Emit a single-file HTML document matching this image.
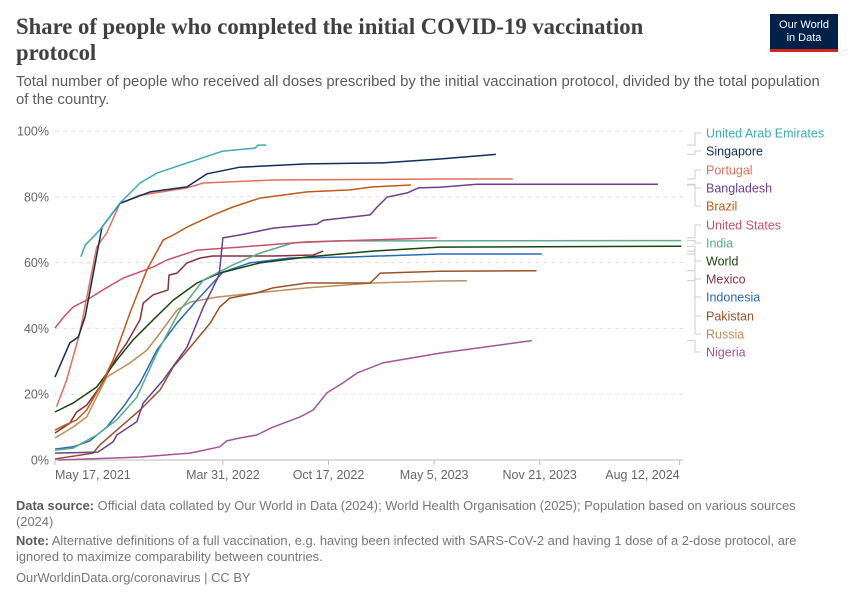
<!DOCTYPE html>
<html><head><meta charset="utf-8">
<style>
body{margin:0;background:#fff;font-family:"Liberation Sans",sans-serif;}
#wrap{position:relative;width:850px;height:600px;overflow:hidden;}
.t{position:absolute;white-space:nowrap;}
</style></head>
<body>
<div id="wrap">
<div class="t" style="left:16px;top:14px;font-family:'Liberation Serif',serif;font-size:22.7px;font-weight:bold;color:#404040;line-height:26px;">Share of people who completed the initial COVID-19 vaccination<br>protocol</div>
<div class="t" style="left:16px;top:73px;font-size:14.9px;color:#5b5b5b;line-height:18px;">Total number of people who received all doses prescribed by the initial vaccination protocol, divided by the total population<br>of the country.</div>
<div style="position:absolute;left:770px;top:14px;width:68px;height:38px;background:#002147;border-bottom:3px solid #ce261e;box-sizing:border-box;color:#fff;font-size:11px;line-height:13px;text-align:center;padding-top:5px;">Our World<br>in Data</div>
<svg id="chart" width="850" height="600" style="position:absolute;left:0;top:0;"></svg>
<div class="t" style="left:16px;top:498px;font-size:12.9px;color:#777;line-height:16px;"><b style="color:#5b5b5b">Data source:</b> Official data collated by Our World in Data (2024); World Health Organisation (2025); Population based on various sources<br>(2024)</div>
<div class="t" style="left:16px;top:533px;font-size:12.9px;color:#777;line-height:16px;"><b style="color:#5b5b5b">Note:</b> Alternative definitions of a full vaccination, e.g. having been infected with SARS-CoV-2 and having 1 dose of a 2-dose protocol, are<br>ignored to maximize comparability between countries.</div>
<div class="t" style="left:16px;top:570px;font-size:12.9px;color:#777;">OurWorldinData.org/coronavirus | CC BY</div>
</div>
<script>
const yTicks=[0,20,40,60,80,100];
const xTickDays=[0,318,518,718,918,1183];
const xTickLabels=["May 17, 2021","Mar 31, 2022","Oct 17, 2022","May 5, 2023","Nov 21, 2023","Aug 12, 2024"];
const names=["United Arab Emirates","Singapore","Portugal","Bangladesh","Brazil","United States","India","World","Mexico","Indonesia","Pakistan","Russia","Nigeria"];
const colors=["#38aaba","#102d5e","#e56e5a","#6d3e91","#c05917","#c8506a","#58ac8c","#18470f","#883039","#286bbb","#9a5129","#bc8e5a","#a2559c"];
const labelY=[133,151,170,188,206,225,243,261,279,297,316,334,352];
const uae=[[49,61.8],[57,65.3],[85,69.9],[123,78.1],[161,84.2],[193,87.2],[256,90.6],[318,93.9],[379,94.8],[384,95.7],[400,95.7]];
const singapore=[[0,25.2],[28,35.6],[44,37.4],[57,43.5],[89,70.8],[123,78],[180,81.5],[250,83],[288,87],[350,89],[477,90],[621,90.3],[729,91.5],[835,92.9]];
const portugal=[[3,16.2],[22,24.3],[47,38.6],[79,64.7],[98,69],[123,78],[161,80.5],[250,82.7],[281,84.2],[413,85.1],[729,85.4],[867,85.4]];
const bangladesh=[[0,2.1],[81,2.4],[110,5.5],[117,7.6],[155,11.6],[167,17.3],[205,24.3],[250,34.3],[281,46.5],[309,55.6],[312,57.8],[318,67.5],[350,68.4],[413,70.5],[496,71.7],[508,72.9],[564,73.9],[597,74.5],[610,76.9],[629,79.9],[667,81.2],[688,82.7],[729,82.9],[799,83.8],[1142,83.8]];
const brazil=[[0,9.1],[19,10.6],[41,12.2],[60,15.2],[85,22.2],[110,30.4],[142,44.7],[174,57.8],[205,66.9],[224,68.4],[250,70.8],[300,74.5],[337,76.9],[388,79.6],[477,81.5],[559,82.1],[602,83],[674,83.6]];
const us=[[0,40.1],[15,43.2],[34,46.5],[60,48.6],[91,51.7],[129,55.3],[186,58.7],[212,60.8],[269,63.8],[350,64.7],[477,66.3],[723,67.5]];
const india=[[0,3],[34,3.6],[79,7.6],[117,12.2],[155,19.1],[193,32.5],[237,45.6],[281,54.7],[337,59.3],[388,62.9],[451,66],[540,66.6],[1186,66.7]];
const world=[[0,14.6],[34,17.3],[79,22.2],[117,30.4],[148,36.5],[186,42.6],[224,48.6],[269,53.8],[312,56.8],[388,59.9],[477,61.7],[602,63.5],[729,64.7],[1186,65]];
const mexico=[[0,8.2],[28,11.2],[41,14.6],[60,16.7],[85,22.2],[117,31.3],[136,35.6],[161,42.6],[167,47.7],[186,50.2],[214,51.7],[216,56.2],[231,56.8],[250,59.9],[275,61.4],[299,62],[413,62],[489,62.3],[508,63.5]];
const indonesia=[[0,3.3],[34,4],[66,5.8],[98,10],[129,16.1],[161,23.4],[193,33.4],[231,41.6],[269,48.6],[318,57.1],[369,59.9],[445,61.4],[559,61.7],[729,62.6],[922,62.6]];
const pakistan=[[0,0.3],[72,2.1],[85,4.6],[117,9.1],[161,15.2],[199,21.3],[224,28.3],[256,34.3],[294,41.6],[312,46.5],[331,49.2],[382,50.8],[413,52.3],[477,53.8],[597,53.8],[616,56.8],[729,57.4],[912,57.5]];
const russia=[[0,6.7],[34,10],[60,13.1],[98,25.2],[142,29.5],[174,33.4],[199,38.6],[231,45.6],[256,48],[306,49.5],[382,50.8],[477,52.3],[602,53.8],[729,54.4],[780,54.5]];
const nigeria=[[6,0],[161,0.9],[256,2.1],[312,4],[325,5.8],[350,6.7],[382,7.6],[413,10],[464,13.1],[489,15.2],[515,20.4],[545,23.4],[572,26.4],[621,29.5],[729,32.5],[903,36.3]];
const series=[uae,singapore,portugal,bangladesh,brazil,us,india,world,mexico,indonesia,pakistan,russia,nigeria];
const drawOrder=[12,11,10,9,8,7,6,5,4,3,2,1,0];

const X0=55,PXD=0.528,Y0=460,PXV=3.29;
const xs=d=>X0+d*PXD, ys=v=>Y0-v*PXV;
const svg=document.getElementById('chart');
const NS="http://www.w3.org/2000/svg";
function mk(tag,attrs){const e=document.createElementNS(NS,tag);for(const k in attrs)e.setAttribute(k,attrs[k]);svg.appendChild(e);return e;}

yTicks.forEach(v=>{
  if(v>0){const g=mk('line',{x1:X0,x2:683,y1:ys(v),y2:ys(v),stroke:'#ddd','stroke-dasharray':'4,4'});
  
  }
  const t=mk('text',{x:49,y:ys(v)+4.5,'text-anchor':'end','font-size':'12.5',fill:'#666','font-family':'Liberation Sans, sans-serif'});
  t.textContent=v+'%';
  
  
});
const ax=mk('line',{x1:X0,x2:683,y1:Y0,y2:Y0,stroke:'#bbb','stroke-width':1});


xTickDays.forEach((d,i)=>{
  const tk=mk('line',{x1:xs(d),x2:xs(d),y1:Y0,y2:Y0+5,stroke:'#bbb'});
  
  
  const anchor=i==0?'start':(i==xTickDays.length-1?'end':'middle');
  const t=mk('text',{x:xs(d),y:Y0+19,'text-anchor':anchor,'font-size':'12.5',fill:'#666','font-family':'Liberation Sans, sans-serif'});
  t.textContent=xTickLabels[i];
  
  
});
drawOrder.forEach(i=>{
  const p=series[i].map(q=>xs(q[0]).toFixed(1)+','+ys(q[1]).toFixed(1)).join(' ');
  const l=mk('polyline',{points:p,fill:'none',stroke:colors[i],'stroke-width':1.5,'stroke-linejoin':'round'});
  
  
});
names.forEach((n,i)=>{
  const s=series[i];const last=s[s.length-1];
  const ey=ys(last[1]);
  const c=mk('polyline',{points:`687,${ey.toFixed(1)} 695,${ey.toFixed(1)} 695,${labelY[i]} 701,${labelY[i]}`,fill:'none',stroke:'#ccc','stroke-width':1});
  
  
  const t=mk('text',{x:706,y:labelY[i]+4.5,'font-size':'12.5',fill:colors[i],'font-family':'Liberation Sans, sans-serif'});
  t.textContent=n;
  
  
});
</script>
</body></html>
